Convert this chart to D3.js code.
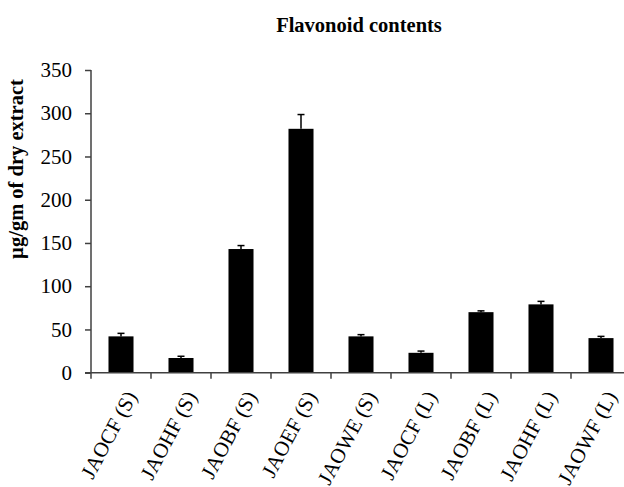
<!DOCTYPE html>
<html>
  <head>
    <meta charset="utf-8" />
    <script src="https://d3js.org/d3.v7.min.js"></script>
    <style>
      body { margin: 0; background: #fff; }
      svg { display: block; font-family: "Liberation Serif", "Times New Roman", serif; }
    </style>
  </head>
  <body>
    <svg id="chart"></svg>
    <script>
      // chart values
      var categories = [
        "JAOCF (S)", "JAOHF (S)", "JAOBF (S)", "JAOEF (S)", "JAOWE (S)",
        "JAOCF (L)", "JAOBF (L)", "JAOHF (L)", "JAOWF (L)"
      ];
      var values = [42, 17, 143, 282, 42, 23, 70, 79, 40];
      var errors = [3.5, 2, 4, 16.5, 2, 2, 1.5, 3.5, 2];
      var yTicks = [0, 50, 100, 150, 200, 250, 300, 350];

      var width = 624;
      var height = 487;

      var svg = d3.select("#chart").attr("width", width).attr("height", height);

      // plot area runs past the right edge, like the original
      var x = d3
        .scaleBand()
        .domain(categories)
        .range([91, 631])
        .paddingInner(0.583)
        .paddingOuter(0.2915);

      var y = d3.scaleLinear().domain([0, 350]).range([372.7, 70]);

      var axisColor = "#404040";

      // title
      svg
        .append("text")
        .attr("x", 359)
        .attr("y", 32)
        .attr("text-anchor", "middle")
        .attr("font-weight", "bold")
        .attr("font-size", "20.5px")
        .text("Flavonoid contents");

      // y axis label
      svg
        .append("text")
        .attr("transform", "translate(23,169) rotate(-90)")
        .attr("text-anchor", "middle")
        .attr("font-weight", "bold")
        .attr("font-size", "20.5px")
        .text("µg/gm of dry extract");

      // bars
      svg
        .append("g")
        .selectAll("rect")
        .data(values)
        .join("rect")
        .attr("x", (d, i) => x(categories[i]))
        .attr("y", (d) => y(d))
        .attr("width", x.bandwidth())
        .attr("height", (d) => y(0) - y(d))
        .attr("fill", "#000");

      // error bars (upper only)
      var eb = svg.append("g").attr("stroke", "#000").attr("stroke-width", 1.5);
      values.forEach(function (v, i) {
        var cx = x(categories[i]) + x.bandwidth() / 2;
        eb.append("line")
          .attr("x1", cx).attr("x2", cx)
          .attr("y1", y(v)).attr("y2", y(v + errors[i]));
        eb.append("line")
          .attr("x1", cx - 3.5).attr("x2", cx + 3.5)
          .attr("y1", y(v + errors[i])).attr("y2", y(v + errors[i]));
      });

      // y axis
      var yAxis = svg
        .append("g")
        .attr("transform", "translate(91,0)")
        .call(d3.axisLeft(y).tickValues(yTicks).tickSize(6).tickPadding(13));
      yAxis.select(".domain").attr("stroke", axisColor).attr("stroke-width", 1.5).attr("d", "M0," + y(350) + "V" + y(0));
      yAxis.selectAll(".tick line").attr("stroke", axisColor).attr("stroke-width", 1.5);
      yAxis.selectAll(".tick text")
        .attr("fill", "#000")
        .attr("font-size", "21px")
        .attr("font-family", "Liberation Serif, Times New Roman, serif");

      // x axis line
      var xg = svg.append("g");
      xg.append("line")
        .attr("x1", 85).attr("x2", width)
        .attr("y1", y(0)).attr("y2", y(0))
        .attr("stroke", axisColor)
        .attr("stroke-width", 1.5);

      // category boundary ticks
      var bounds = d3.range(categories.length + 1).map((i) => x.range()[0] + x.step() * i);
      xg.selectAll("line.tk")
        .data(bounds)
        .join("line")
        .attr("class", "tk")
        .attr("x1", (d) => d).attr("x2", (d) => d)
        .attr("y1", y(0)).attr("y2", y(0) + 6)
        .attr("stroke", axisColor)
        .attr("stroke-width", 1.5);

      // rotated category labels
      xg.selectAll("text")
        .data(categories)
        .join("text")
        .attr("transform", (d) => "translate(" + (x(d) + x.bandwidth() / 2 + 10) + "," + (y(0) + 20) + ") rotate(-62)")
        .attr("text-anchor", "end")
        .attr("dy", "0.35em")
        .attr("font-size", "21px")
        .text((d) => d);
    </script>
  </body>
</html>
